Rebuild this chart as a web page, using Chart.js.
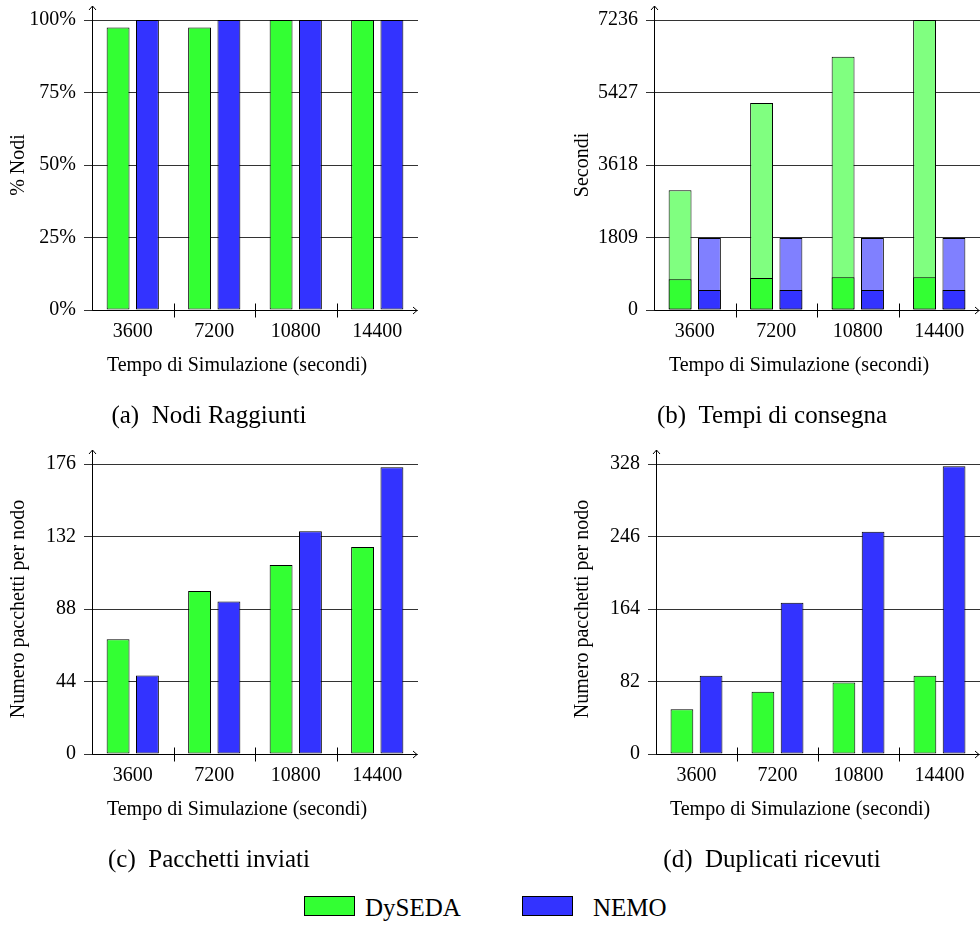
<!DOCTYPE html>
<html>
<head>
<meta charset="utf-8">
<script src="https://cdn.jsdelivr.net/npm/chart.js@4/dist/chart.umd.min.js"></script>
<style>
  body { margin: 0; width: 980px; height: 929px; overflow: hidden; background: #fff; position: relative;
         font-family: "Liberation Serif", "Times New Roman", serif; }
  canvas { position: absolute; }
  #chartA { left: 0; top: 0; }
  #chartB { left: 540px; top: 0; }
  #chartC { left: 0; top: 444px; }
  #chartD { left: 540px; top: 444px; }
  .box { position: absolute; top: 896px; width: 49px; height: 18px; border: 1px solid #000; }
  .lab { position: absolute; top: 893px; font-size: 25px; line-height: 30px; color: #000; }
</style>
</head>
<body>
<canvas id="chartA" width="440" height="444"></canvas>
<canvas id="chartB" width="440" height="444"></canvas>
<canvas id="chartC" width="440" height="444"></canvas>
<canvas id="chartD" width="440" height="444"></canvas>

<div class="box" style="left:304px;background:#33ff33"></div><div class="lab" style="left:365px">DySEDA</div>
<div class="box" style="left:522px;background:#3333ff"></div><div class="lab" style="left:593px">NEMO</div>

<script>
const categories = ['3600', '7200', '10800', '14400'];
const xTitle = 'Tempo di Simulazione (secondi)';

// (a) nodi raggiunti, in %
const reachedDySEDA = [97.4, 97.4, 100, 100];
const reachedNEMO = [100, 100, 100, 100];
const reachedTicks = [0, 25, 50, 75, 100];

// (b) tempi di consegna: parte scura = media, parte chiara = massimo
const timeDySEDAAvg = [768, 801, 818, 818];
const timeDySEDAMax = [2985, 5162, 6322, 7236];
const timeNEMOAvg = [500, 500, 500, 500];
const timeNEMOMax = [1795, 1795, 1795, 1795];
const timeTicks = [0, 1809, 3618, 5427, 7236];

// (c) pacchetti inviati per nodo
const sentDySEDA = [69.7, 98.9, 114.7, 125.7];
const sentNEMO = [47.6, 92.6, 135.2, 174];
const sentTicks = [0, 44, 88, 132, 176];

// (d) duplicati ricevuti per nodo
const dupDySEDA = [50.6, 70.3, 80.8, 88.4];
const dupNEMO = [88.4, 171.2, 251.3, 325.4];
const dupTicks = [0, 82, 164, 246, 328];

const GREEN = '#33ff33', GREEN_L = '#80ff80', BLUE = '#3333ff', BLUE_L = '#8080ff';

Chart.defaults.font.family = '"Liberation Serif", "Times New Roman", serif';
Chart.defaults.color = '#000';

// axis lines with arrows, ticks between categories, x label (pgfplots look)
const pgfAxes = {
  id: 'pgfAxes',
  afterDatasetsDraw(chart) {
    const {ctx, chartArea: a, scales: {x}} = chart;
    const L = Math.round(a.left) + 0.5, B = Math.round(a.bottom) + 0.5;
    const top = a.top - 14, right = a.right - 1;
    ctx.save();
    ctx.strokeStyle = '#000';
    ctx.lineWidth = 1;
    ctx.beginPath();
    ctx.moveTo(L, B); ctx.lineTo(L, top);
    ctx.moveTo(L - 3.5, top + 4); ctx.lineTo(L, top); ctx.lineTo(L + 3.5, top + 4);
    ctx.moveTo(L, B); ctx.lineTo(right, B);
    ctx.moveTo(right - 4, B - 3.5); ctx.lineTo(right, B); ctx.lineTo(right - 4, B + 3.5);
    for (let i = 1; i < x.ticks.length; i++) {
      const px = Math.round((x.getPixelForTick(i - 1) + x.getPixelForTick(i)) / 2) + 0.5;
      ctx.moveTo(px, B - 7); ctx.lineTo(px, B + 7);
    }
    ctx.stroke();
    ctx.fillStyle = '#000';
    ctx.font = '20px "Liberation Serif", "Times New Roman", serif';
    ctx.textAlign = 'center';
    ctx.textBaseline = 'middle';
    ctx.fillText(xTitle, (a.left + a.right) / 2 - 18, a.bottom + 56);
    ctx.restore();
  }
};

function bar(label, data, color, extra) {
  return Object.assign({
    label: label, data: data, backgroundColor: color,
    borderColor: '#000', borderWidth: 1, borderSkipped: false,
    categoryPercentage: 0.72, barPercentage: 0.78
  }, extra || {});
}

function makeChart(id, o) {
  return new Chart(document.getElementById(id), {
    type: 'bar',
    data: { labels: categories, datasets: o.datasets },
    options: {
      responsive: false,
      animation: false,
      layout: { padding: o.padding },
      plugins: {
        legend: { display: false },
        tooltip: { enabled: false },
        title: {
          display: true, position: 'bottom', text: o.caption, color: '#000',
          font: { size: 25, weight: 'normal' }, padding: { top: 23, bottom: 13 }
        }
      },
      scales: {
        x: {
          stacked: !!o.overlay,
          grid: { display: false, drawTicks: false },
          border: { display: false },
          ticks: { padding: 10, font: { size: 20 }, color: '#000' },
          afterFit: s => { s.height = 68; }
        },
        y: {
          stacked: false,
          min: 0,
          max: o.ticks[o.ticks.length - 1],
          grid: { color: '#333', tickLength: 8 },
          border: { display: false },
          ticks: { padding: 8, font: { size: 20 }, color: '#000', callback: o.fmt || (v => String(v)) },
          afterBuildTicks: s => { s.ticks = o.ticks.map(v => ({ value: v })); },
          afterFit: s => { s.width = o.yWidth; },
          title: { display: true, text: o.yTitle, color: '#000', font: { size: 20 }, padding: { top: 7, bottom: 0 } }
        }
      }
    },
    plugins: [pgfAxes]
  });
}

makeChart('chartA', {
  caption: '(a)  Nodi Raggiunti',
  yTitle: '% Nodi',
  ticks: reachedTicks,
  fmt: v => v + '%',
  yWidth: 92,
  padding: { top: 20, right: 22, left: 0, bottom: 0 },
  datasets: [bar('DySEDA', reachedDySEDA, GREEN), bar('NEMO', reachedNEMO, BLUE)]
});

makeChart('chartB', {
  caption: '(b)  Tempi di consegna',
  yTitle: 'Secondi',
  ticks: timeTicks,
  yWidth: 90,
  overlay: true,
  padding: { top: 20, right: 0, left: 24, bottom: 0 },
  datasets: [
    bar('DySEDA', timeDySEDAAvg, GREEN, { stack: 'D', order: 0 }),
    bar('NEMO', timeNEMOAvg, BLUE, { stack: 'N', order: 0 }),
    bar('DySEDA max', timeDySEDAMax, GREEN_L, { stack: 'D', order: 1 }),
    bar('NEMO max', timeNEMOMax, BLUE_L, { stack: 'N', order: 1 })
  ]
});

makeChart('chartC', {
  caption: '(c)  Pacchetti inviati',
  yTitle: 'Numero pacchetti per nodo',
  ticks: sentTicks,
  yWidth: 92,
  padding: { top: 20, right: 22, left: 0, bottom: 0 },
  datasets: [bar('DySEDA', sentDySEDA, GREEN), bar('NEMO', sentNEMO, BLUE)]
});

makeChart('chartD', {
  caption: '(d)  Duplicati ricevuti',
  yTitle: 'Numero pacchetti per nodo',
  ticks: dupTicks,
  yWidth: 92,
  padding: { top: 20, right: 0, left: 24, bottom: 0 },
  datasets: [bar('DySEDA', dupDySEDA, GREEN), bar('NEMO', dupNEMO, BLUE)]
});
</script>
</body>
</html>
